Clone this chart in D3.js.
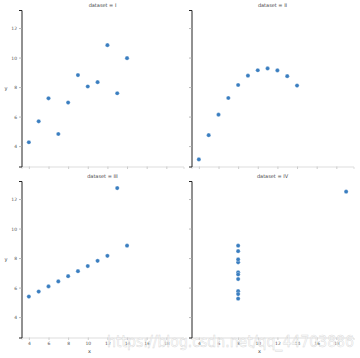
<!DOCTYPE html>
<html><head><meta charset="utf-8">
<script src="https://cdn.jsdelivr.net/npm/d3@7"></script>
<style>body{margin:0;background:#fff}svg{display:block}text{font-family:"DejaVu Sans",sans-serif}</style>
</head><body><svg id="c" width="360" height="358"></svg>
<script>
const datasets = ["I", "II", "III", "IV"];
const xI = [10, 8, 13, 9, 11, 14, 6, 4, 12, 7, 5];
const yI = [8.04, 6.95, 7.58, 8.81, 8.33, 9.96, 7.24, 4.26, 10.84, 4.82, 5.68];
const xII = [10, 8, 13, 9, 11, 14, 6, 4, 12, 7, 5];
const yII = [9.14, 8.14, 8.74, 8.77, 9.26, 8.10, 6.13, 3.10, 9.13, 7.26, 4.74];
const xIII = [10, 8, 13, 9, 11, 14, 6, 4, 12, 7, 5];
const yIII = [7.46, 6.77, 12.74, 7.11, 7.81, 8.84, 6.08, 5.39, 8.15, 6.42, 5.73];
const xIV = [8, 8, 8, 8, 8, 8, 8, 19, 8, 8, 8];
const yIV = [6.58, 5.76, 7.71, 8.84, 8.47, 7.04, 5.25, 12.50, 5.56, 7.91, 6.89];
const xTicks = [4, 6, 8, 10, 12, 14, 16, 18];
const yTicks = [4, 6, 8, 10, 12];

const xs = [xI, xII, xIII, xIV], ys = [yI, yII, yIII, yIV];
const svg = d3.select("#c");
const colL = [21.5, 191.5], colW = 162;
const rowT = [10, 181], rowH = 156.5;
const allX = xs.flat(), allY = ys.flat();
const xr = d3.extent(allX), yr = d3.extent(allY);
const xm = (xr[1]-xr[0])*0.05, ym = (yr[1]-yr[0])*0.05;

datasets.forEach((name, i) => {
  const c = i % 2, r = Math.floor(i / 2);
  const x0 = colL[c], y0 = rowT[r];
  const x = d3.scaleLinear().domain([xr[0]-xm, xr[1]+xm]).range([x0, x0+colW]);
  const y = d3.scaleLinear().domain([yr[0]-ym, yr[1]+ym]).range([y0+rowH, y0]);
  const g = svg.append("g");
  const xa = g.append("g").attr("transform", `translate(0,${y0+rowH})`)
    .call(d3.axisBottom(x).tickValues(xTicks).tickSize(2.5).tickPadding(2)
      .tickFormat(r === 1 ? d3.format("d") : () => ""));
  xa.select(".domain").attr("stroke", "#ddd").attr("stroke-width", 1);
  xa.selectAll(".tick line").attr("stroke", "#ccc");
  xa.selectAll("text").attr("font-size", 4.5).attr("fill", "#555");
  const ya = g.append("g").attr("transform", `translate(${x0},0)`)
    .call(d3.axisLeft(y).tickValues(yTicks).tickSize(2.5).tickPadding(2)
      .tickFormat(c === 0 ? d3.format("d") : () => ""));
  ya.select(".domain").attr("stroke", "#222").attr("stroke-width", 1);
  ya.selectAll(".tick line").attr("stroke", "#bbb");
  ya.selectAll("text").attr("font-size", 4.5).attr("fill", "#555");
  g.selectAll("circle").data(xs[i].map((v, k) => [v, ys[i][k]])).enter().append("circle")
    .attr("cx", d => x(d[0])).attr("cy", d => y(d[1])).attr("r", 2.1)
    .attr("fill", "#3a7ec0").attr("stroke", "#fff").attr("stroke-width", 0.3);
  g.append("text").attr("x", x0 + colW/2).attr("y", y0 - 3.5).attr("text-anchor", "middle")
    .attr("font-size", 5).attr("fill", "#444").text(`dataset = ${name}`);
  if (c === 0) {
    g.append("text").attr("x", 6).attr("y", y0 + rowH/2 + 1.5).attr("text-anchor", "middle")
      .attr("font-size", 5).attr("fill", "#444").text("y");
  }
  if (r === 1) {
    g.append("text").attr("x", x0 + colW/2 - 13).attr("y", 353).attr("text-anchor", "middle")
      .attr("font-size", 5).attr("fill", "#444").text("x");
  }
});
svg.append("text").attr("x", 107).attr("y", 347).attr("font-size", 15)
  .attr("textLength", 247).attr("lengthAdjust", "spacingAndGlyphs")
  .attr("fill", "#fff").attr("fill-opacity", 0.7).attr("stroke", "#d0d0d0").attr("stroke-width", 0.5)
  .attr("stroke-opacity", 0.8).text("https://blog.csdn.net/qq_44703886");
</script></body></html>
